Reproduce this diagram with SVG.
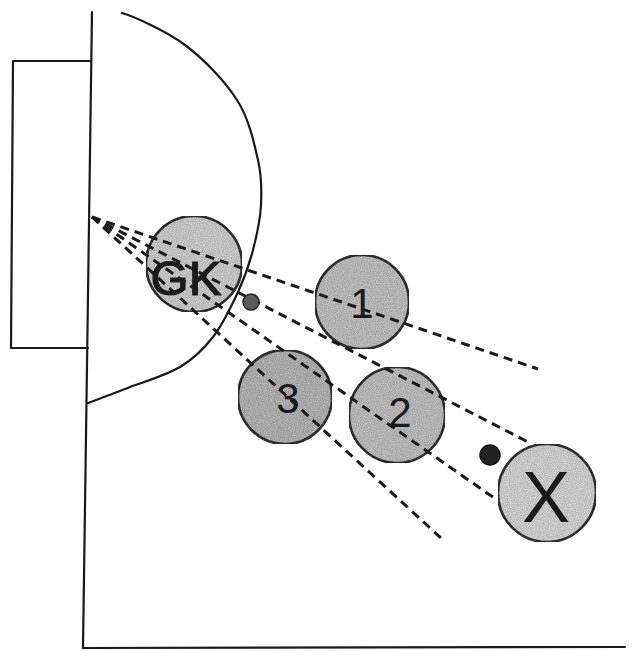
<svg xmlns="http://www.w3.org/2000/svg" width="642" height="651" viewBox="0 0 642 651">
  <style>
    .line { fill: none; stroke: #1a1a1a; stroke-width: 2.2; stroke-linecap: round; stroke-linejoin: round; }
    .player { stroke: #111; stroke-width: 2.6; }
    .sight { fill: none; stroke: #1a1a1a; stroke-width: 3; stroke-dasharray: 9 6; }
    .label { font-family: "Liberation Sans", Arial, sans-serif; fill: #1a1a1a; text-anchor: middle; }
  </style>
  <defs>
    <!-- speckled shading for the player discs -->
    <filter id="grain" x="0" y="0" width="100%" height="100%" color-interpolation-filters="sRGB">
      <feTurbulence type="fractalNoise" baseFrequency="0.85" numOctaves="2" seed="4" result="noise"/>
      <feColorMatrix in="noise" type="matrix" values="1 0 0 0 0  1 0 0 0 0  1 0 0 0 0  0 0 0 0 0.25" result="speck"/>
      <feComposite in="speck" in2="SourceGraphic" operator="in" result="clip"/>
      <feMerge><feMergeNode in="SourceGraphic"/><feMergeNode in="clip"/></feMerge>
    </filter>
  </defs>
  <rect width="642" height="651" fill="#ffffff"/>

  <!-- pitch markings: goal, goal line, circle arc, bottom line -->
  <g id="pitch">
    <path class="line" d="M91,61 L13,61 L11,348 L88,348"/>
    <path class="line" d="M92,12 L83,648"/>
    <path class="line" stroke="#8a8a8a" stroke-width="1.6" d="M83,648 L625,647"/>
    <path class="line" d="M122,13 C132.5,16 165.8,30.5 185,45 C204.2,59.5 224.8,80.8 237,100 C249.2,119.2 254,142.5 258,160 C262,177.5 261.8,190 261,205 C260.2,220 256.8,235.5 253,250 C249.2,264.5 244.7,277.5 238,292 C231.3,306.5 222.7,324.5 213,337 C203.3,349.5 194.7,358.3 180,367 C165.3,375.7 140.3,383 125,389 C109.7,395 94.2,400.7 88,403"/>
  </g>

  <!-- players -->
  <g id="gk">
    <circle class="player" cx="194" cy="264" r="48" fill="#d4d4d4" filter="url(#grain)"/>
  </g>
  <g id="p1">
    <circle class="player" cx="362" cy="302" r="47" fill="#c4c4c4" filter="url(#grain)"/>
  </g>
  <g id="p3">
    <circle class="player" cx="285" cy="397" r="47" fill="#b4b4b4" filter="url(#grain)"/>
  </g>
  <g id="p2">
    <circle class="player" cx="397" cy="415" r="48" fill="#c2c2c2" filter="url(#grain)"/>
  </g>
  <g id="shooter">
    <circle class="player" cx="547" cy="493" r="49" fill="#dcdcdc" filter="url(#grain)"/>
  </g>

  <!-- lines of sight from the goal -->
  <g id="connectors">
    <path class="sight" d="M92,217 L538,369"/>
    <path class="sight" d="M92,217 L530,443"/>
    <path class="sight" d="M92,217 L497,500"/>
    <path class="sight" d="M92,217 L442,539"/>
  </g>

  <!-- balls -->
  <g id="ball-near">
    <circle cx="251" cy="302" r="8" fill="#5a5a5a" stroke="#222" stroke-width="1.5"/>
  </g>
  <g id="ball-far">
    <circle cx="490" cy="455" r="10" fill="#222" stroke="#111" stroke-width="1.5"/>
  </g>

  <!-- labels -->
  <g id="labels">
    <text class="label" x="186" y="295" font-size="49" stroke="#1a1a1a" stroke-width="1.2">GK</text>
    <text class="label" x="362" y="318" font-size="42">1</text>
    <text class="label" x="400" y="427" font-size="42">2</text>
    <text class="label" x="288" y="413" font-size="42">3</text>
    <text class="label" x="546" y="522" font-size="72">X</text>
  </g>
</svg>
